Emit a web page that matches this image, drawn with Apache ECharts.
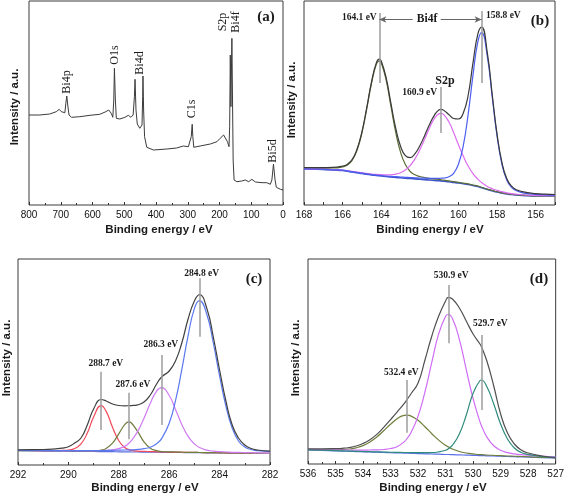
<!DOCTYPE html>
<html><head><meta charset="utf-8">
<script src="https://cdn.jsdelivr.net/npm/echarts@6/dist/echarts.min.js"></script>
<style>html,body{margin:0;padding:0;background:#fff}#c{width:567px;height:496px}</style>
</head><body><div id="c"></div><script>
// ---- Panel (a): survey spectrum ----
const aE = [800,766,735,714,705,698,687,684,681,678,674,666,640,608,577,558,549,541,536,533,531,528,525,514,498,487,479,472,468,466,463,459,451,444,442,441,439,436,429,408,366,335,314,308,298,292,289,286,284,281,261,229,208,198,187,181,175,170,168,166,164,163,161,159,157,154,145,130,119,108,98,87,66,51,40,35,30,25,21,8,0];
const aI = [90,90,91,93.3,95.7,93.3,92.3,101.7,109,100,90,87.7,88.3,89.7,90.7,93.3,95,91.7,87.7,105,136.7,105,86.7,86,87.7,89.7,87.7,90,108.3,125.7,95,81,76.7,80,108.3,129,95,68.3,57.7,55,56,57,59,60.3,58.3,57,68.3,80.7,68.3,57.7,59,61,63.3,66.7,70,69,63.3,58.3,78.3,150,98.3,98.3,166.7,105,45,25,23.3,24,25,23.3,25.7,23,22.3,22.3,20.7,25,41,25,17.7,15.7,15];
// ---- Panel (b): Bi4f / S2p ----
const bE = [168,167.5,167,166.5,166,165.75,165.5,165.25,165,164.75,164.5,164.25,164.1,164,163.75,163.5,163.25,163,162.75,162.5,162.25,162,161.75,161.5,161.25,161,160.9,160.75,160.5,160.25,160,159.75,159.5,159.25,159,158.8,158.5,158.25,158,157.75,157.5,157.25,157,156.5,156,155.5,155];
const bBg = [36,35.8,35.5,35,34.5,33.8,33,32.3,31.5,30.8,30,29.5,29.2,29,28.5,28,27.6,27.2,26.8,26.5,26.1,25.7,25.3,25,24.6,24.2,24,23.7,23.2,22.6,22,21.3,20.5,19.5,18.5,17.3,15.5,14.2,13,12,11,10.5,10,9.3,9,9,9];
const bBi4f52 = [36.8,36.8,36.9,37.0,38.2,40.0,44.8,55.0,72.1,96.2,122.0,140.9,144.2,142.3,125.4,99.0,72.8,52.8,40.4,33.5,30.2,28.5,27.4,26.7,26.0,25.5,25.2,24.8,24.1,23.4,22.7,21.9,21.1,20.0,19.0,17.7,15.9,14.6,13.3,12.3,11.3,10.8,10.3,9.6,9.2,9.2,9.2];
const bS2p = [36.3,36.1,35.8,35.4,35.0,34.3,33.6,33.0,32.3,31.7,31.0,30.6,30.4,30.3,30.2,30.2,30.9,32.3,34.9,39.5,46.2,55.2,66.0,77.1,86.3,91.4,91.7,90.2,83.3,72.5,60.3,48.9,39.0,31.4,25.9,22.4,18.5,16.3,14.6,13.3,12.1,11.4,10.8,10.0,9.5,9.4,9.4];
const bBi4f72 = [36.2,36.0,35.7,35.2,34.8,34.1,33.3,32.6,31.8,31.1,30.4,29.9,29.6,29.5,29.0,28.6,28.3,28.0,27.7,27.4,27.2,26.9,26.8,26.7,26.6,26.7,26.8,27.0,28.2,31.7,40.8,59.4,90.4,129.4,162.8,172.3,147.9,107.8,68.8,41.0,25.0,17.6,14.2,11.6,10.7,10.2,9.9];
const bRaw = [37.3,37.3,37.4,37.6,39.0,40.8,45.7,56.0,73.2,97.4,123.4,142.4,145.8,144.1,127.6,101.8,76.8,58.7,49.4,47.4,51.4,59.2,69.6,80.5,89.7,95.2,95.7,94.6,90.5,86.5,86.0,92.0,109.5,141.8,170.7,177.8,151.3,110.3,70.7,42.6,26.4,18.8,15.3,12.6,11.4,10.8,10.5];
// ---- Panel (c): C1s ----
const cE = [292,291.5,291,290.5,290.25,290,289.75,289.5,289.25,289,288.7,288.5,288.25,288,287.75,287.6,287.5,287.25,287,286.75,286.5,286.3,286,285.75,285.5,285.25,285,284.8,284.5,284.25,284,283.75,283.5,283.25,283,282.75,282.5,282];
const cBg = [14.3,14.2,14.0,13.9,13.8,13.7,13.7,13.6,13.5,13.5,13.4,13.3,13.3,13.2,13.1,13.1,13.0,13.0,12.9,12.8,12.8,12.7,12.6,12.6,12.5,12.4,12.4,12.3,12.2,12.1,12.1,12.0,11.9,11.9,11.8,11.7,11.6,11.5];
const c2887 = [14.5,14.5,14.4,14.5,14.6,15.0,16.5,21.1,31.9,47.9,59.4,53.6,37.8,24.3,17.2,15.4,14.7,13.9,13.6,13.4,13.2,13.1,12.9,12.8,12.7,12.6,12.6,12.5,12.4,12.3,12.3,12.2,12.1,12.0,11.9,11.8,11.7,11.6];
const c2876 = [14.4,14.3,14.2,14.1,14.0,13.9,14.0,14.0,14.0,14.2,14.9,16.6,21.9,31.2,40.9,43.1,42.0,33.4,23.2,16.8,14.3,13.5,13.1,13.0,12.8,12.65,12.6,12.5,12.4,12.3,12.2,12.1,12.0,12.0,11.9,11.8,11.7,11.6];
const c2863 = [14.5,14.5,14.3,14.3,14.2,14.2,14.25,14.25,14.3,14.4,14.5,14.7,15.2,16.4,18.9,21.8,24.3,33.6,46.7,61.8,73.9,77.4,69.5,55.6,40.6,28.7,21.1,17.5,14.8,13.8,13.3,13.0,12.7,12.6,12.4,12.25,12.1,11.85];
const c2848 = [14.6,14.6,14.45,14.4,14.4,14.3,14.4,14.35,14.3,14.4,14.5,14.5,14.7,14.8,15.0,15.2,15.2,15.6,16.4,17.8,21.3,26.4,41.8,64.3,95.3,129.4,156.4,164.3,150,122,89,59,37,24,18,15.5,14.3,13.4];
const cRaw = [15.1,15.3,15.5,16.2,16.8,18.3,22,27,40,56,65.5,64,61,59.5,59.2,59.3,59.4,60.2,63,70,81,88,94,104,122,146,164,170.3,156,128,95,64,40,27,20,16.5,15,13.8];
// ---- Panel (d): O1s ----
const dE = [536,535.5,535,534.75,534.5,534.25,534,533.75,533.5,533.25,533,532.75,532.5,532.4,532.25,532,531.75,531.5,531.25,531,530.9,530.75,530.5,530.25,530,529.75,529.7,529.5,529.25,529,528.75,528.5,528.25,528,527.5,527];
const dBg = [14.0,13.6,13.1,12.9,12.7,12.4,12.2,12.0,11.8,11.6,11.3,11.1,10.9,10.8,10.7,10.4,10.2,10.0,9.8,9.5,9.5,9.3,9.1,8.9,8.7,8.4,8.4,8.2,8.0,7.8,7.5,7.3,7.1,6.9,6.4,6.0];
const d5324 = [14.5,14.25,14.2,14.4,15.0,16.2,18.4,22.0,27.0,33.3,39.7,45.5,48.6,48.8,47.9,43.7,37.3,30.3,23.9,18.7,17.1,15.0,12.5,11.0,10.1,9.4,9.4,9.0,8.65,8.35,8.0,7.75,7.5,7.25,6.7,6.25];
const d5309 = [14.6,14.4,14.1,14.0,14.0,13.9,13.9,14.0,14.1,14.5,15.5,17.5,22.4,25.5,31.8,47.9,72.1,101.8,130.3,147.8,149.5,145.5,124.7,94.6,65.3,42.1,38.5,27.0,18.2,13.7,11.4,10.1,9.3,8.9,7.8,7.1];
const d5297 = [14.1,13.75,13.3,13.1,12.9,12.65,12.5,12.3,12.1,12.0,11.75,11.6,11.5,11.5,11.45,11.3,11.3,11.4,12.1,13.7,15.3,18.8,30.0,48.8,70.8,83.5,84.0,77.2,60,40,25,16,11.5,9.5,7.4,6.7];
const dRaw = [15.2,15.2,15.4,15.7,16.5,18.0,20.5,24.3,29.6,36.6,44.4,52.4,60.7,64.5,70.5,81,104,128,148,163,166.7,165,156,143,130,120,117.5,103,78,50,31,20,14,11,8,6];
// ---- Annotation text ----
const surveyLabels = ['Bi4p','O1s','Bi4d','C1s','S2p','Bi4f','Bi5d'];
const bPeakLabels = ['164.1 eV','158.8 eV','160.9 eV'];
const cPeakLabels = ['288.7 eV','287.6 eV','286.3 eV','284.8 eV'];
const dPeakLabels = ['530.9 eV','529.7 eV','532.4 eV'];

const zip = (xs, ys) => xs.map((x, i) => [x, ys[i]]);
const SANS = '"Liberation Sans", Arial, sans-serif';
const SERIF = '"Liberation Serif", "Times New Roman", serif';

const grids = [
  {left:29, top:1, width:254, height:204},
  {left:304, top:1, width:251, height:204},
  {left:18, top:259, width:252, height:206},
  {left:308, top:259, width:250, height:205}
].map(g => Object.assign(g, {show:true, borderColor:'#3a3a3a', borderWidth:1, backgroundColor:'transparent'}));

function xAx(gi, min, max, interval, minor, fmt) {
  return {gridIndex:gi, type:'value', min, max, interval, inverse:true,
    axisLine:{show:false},
    axisTick:{show:true, inside:true, length:3, lineStyle:{color:'#333'}},
    minorTick:{show:minor, splitNumber:2, length:2, lineStyle:{color:'#333'}},
    splitLine:{show:false}, minorSplitLine:{show:false},
    axisLabel:{show:true, fontSize:10, fontFamily:SANS, color:'#111', margin:5, interval:0,
      showMinLabel:true, showMaxLabel:true, formatter: fmt || (v => String(v))}};
}
function yAx(gi, max) { return {gridIndex:gi, type:'value', min:0, max, show:false}; }

function ln(gi, xs, ys, color, w, smooth, z, extra) {
  return Object.assign({type:'line', xAxisIndex:gi, yAxisIndex:gi, data:zip(xs, ys), showSymbol:false, symbol:'none',
    smooth, lineStyle:{color, width:w}, silent:true, animation:false, z}, extra || {});
}
function vml(lines) {
  return {markLine:{silent:true, animation:false, symbol:['none','none'], label:{show:false},
    lineStyle:{color:'#9c9c9c', width:1.5, type:'solid'},
    data: lines}};
}
const seg = (x, y1, y2) => [{coord:[x, y1]}, {coord:[x, y2]}];

const bMarks = vml([
  seg(164.1, 122, 192), seg(158.8, 122, 194), seg(160.9, 72, 118),
  [{coord:[162.37, 185.5], symbol:'none', lineStyle:{color:'#666', width:1}}, {coord:[164.1, 185.5], symbol:'arrow', symbolSize:[5,7]}],
  [{coord:[160.92, 185.5], symbol:'none', lineStyle:{color:'#666', width:1}}, {coord:[158.8, 185.5], symbol:'arrow', symbolSize:[5,7]}]
]);
const cMarks = vml([seg(288.7, 35, 93.3), seg(287.6, 25.7, 72.3), seg(286.3, 40, 110), seg(284.8, 128.3, 186.7)]);
const dMarks = vml([seg(530.9, 120.7, 179), seg(529.7, 54, 129), seg(532.4, 31.3, 84)]);

const series = [
  ln(0, aE, aI, '#3c3c3c', 1, false, 3),
  ln(1, bE, bBg, '#3d55c8', 1.6, true, 2, bMarks),
  ln(1, bE, bBi4f52, '#5b6e35', 1.2, true, 3),
  ln(1, bE, bS2p, '#dd6cf0', 1.2, true, 3),
  ln(1, bE, bBi4f72, '#4b5ef0', 1.2, true, 3),
  ln(1, bE, bRaw, '#3a3a3a', 1.2, true, 4),
  ln(2, cE, cBg, '#5a6ee0', 1.2, true, 2, cMarks),
  ln(2, cE, c2887, '#f04a5a', 1.2, true, 3),
  ln(2, cE, c2876, '#6f7f3c', 1.2, true, 3),
  ln(2, cE, c2863, '#cf7cf2', 1.2, true, 3),
  ln(2, cE, c2848, '#5a78f0', 1.2, true, 3),
  ln(2, cE, cRaw, '#404040', 1.2, true, 4),
  ln(3, dE, dBg, '#5a70e8', 1.2, true, 2, dMarks),
  ln(3, dE, d5324, '#6f7f3c', 1.2, true, 3),
  ln(3, dE, d5309, '#cf6cf5', 1.2, true, 3),
  ln(3, dE, d5297, '#2f8c7c', 1.2, true, 3),
  ln(3, dE, dRaw, '#505050', 1.2, true, 4)
];

function txt(x, y, text, font, rot) {
  return {type:'text', x, y, rotation: rot ? Math.PI/2 : 0, silent:true, z:10,
    style:{text, font, fill:'#1a1a1a', align:'center', verticalAlign:'middle'}};
}
const AX = 'bold 11.5px ' + SANS;
const LB = 'bold 9.5px ' + SERIF;
const PN = 'bold 15px ' + SERIF;
const SV = '12px ' + SERIF;
const graphic = [
  txt(15, 107, 'Intensity / a.u.', AX, true),
  txt(291.5, 100, 'Intensity / a.u.', AX, true),
  txt(7, 358, 'Intensity / a.u.', AX, true),
  txt(296, 358, 'Intensity / a.u.', AX, true),
  txt(159, 229.5, 'Binding energy / eV', AX),
  txt(430, 229.5, 'Binding energy / eV', AX),
  txt(145, 488, 'Binding energy / eV', AX),
  txt(433, 488, 'Binding energy / eV', AX),
  txt(266, 17, '(a)', PN), txt(540, 21, '(b)', PN), txt(254, 279, '(c)', PN), txt(539, 279, '(d)', PN),
  txt(67, 82, surveyLabels[0], SV, true),
  txt(115, 55, surveyLabels[1], SV, true),
  txt(139.5, 63, surveyLabels[2], SV, true),
  txt(191.7, 109, surveyLabels[3], SV, true),
  txt(222.5, 22, surveyLabels[4], SV, true),
  txt(235.5, 22, surveyLabels[5], SV, true),
  txt(273.3, 151, surveyLabels[6], SV, true),
  txt(359.3, 17.3, bPeakLabels[0], LB),
  txt(503.3, 15.5, bPeakLabels[1], LB),
  txt(419.7, 92.3, bPeakLabels[2], LB),
  txt(427, 19.5, 'Bi4f', 'bold 11.5px ' + SERIF),
  txt(445, 80.7, 'S2p', 'bold 12px ' + SERIF),
  txt(105.8, 363.3, cPeakLabels[0], LB),
  txt(133, 384.3, cPeakLabels[1], LB),
  txt(160.8, 344.3, cPeakLabels[2], LB),
  txt(201.7, 274, cPeakLabels[3], LB),
  txt(451.2, 276, dPeakLabels[0], LB),
  txt(490.3, 323.3, dPeakLabels[1], LB),
  txt(401.3, 372.3, dPeakLabels[2], LB)
];

const chart = echarts.init(document.getElementById('c'), null, {renderer:'canvas'});
chart.setOption({
  animation:false,
  backgroundColor:'#ffffff',
  grid: grids,
  xAxis: [
    xAx(0, 0, 800, 100, true),
    xAx(1, 155, 168, 1, false, v => (v % 2 === 0 ? String(v) : '')),
    xAx(2, 282, 292, 2, true),
    xAx(3, 527, 536, 1, true)
  ],
  yAxis: [yAx(0, 204), yAx(1, 204), yAx(2, 206), yAx(3, 205)],
  series,
  graphic
});
</script></body></html>
